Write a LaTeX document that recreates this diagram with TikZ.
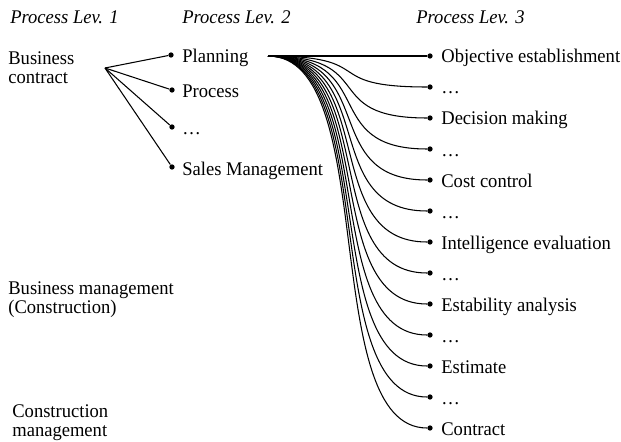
\documentclass[tikz,border=0pt]{standalone}
\usepackage{fontspec}
\setmainfont[FakeStretch=0.96]{Liberation Serif}
\usetikzlibrary{positioning}
\tikzset{
    txt/.style={
           inner sep=0pt,
           anchor=base west,
           font=\fontsize{11}{11.2}\selectfont,
           align=left,
           text=black
           },
    block/.style={txt, anchor=north west},
    head/.style={txt, font=\fontsize{11}{11.2}\selectfont\itshape},
    dot/.style={circle, fill=black, inner sep=0pt, minimum size=3pt},
    conn/.style={draw=black, line width=0.6pt},
}

\begin{document}
\begin{tikzpicture}[x=0.02cm,y=-0.02cm]
\useasboundingbox (0,0) rectangle (621,442);

% headers
\node[head] (LEVONE)   at (10,24)  {Process Lev. 1};
\node[head] (LEVTWO)   at (182,24) {Process Lev. 2};
\node[head] (LEVTHREE) at (416,24) {Process Lev. 3};

% level 1
\node[block] (CONTRACT)     at (8,51)  {Business\\contract};
\node[block] (BUSINESSMGMT) at (8,281) {Business management\\(Construction)};
\node[block] (CONSTRMGMT)   at (12,404) {Construction\\management};
\coordinate (FAN) at (105,68);

% level 2
\node[dot] (PLANDOT)  at (171,55)  {};
\node[dot] (PROCDOT)  at (172,90)  {};
\node[dot] (ETCDOT)   at (172,127) {};
\node[dot] (SALESDOT) at (172,167) {};
\node[txt] (PLANNING) at (182,63)  {Planning};
\node[txt] (PROCESS)  at (182,98)  {Process};
\node[txt] (ETC)      at (182,135) {…};
\node[txt] (SALES)    at (182,175) {Sales Management};
\coordinate (PLANOUT) at (268,56);

\path (FAN) edge[conn] (PLANDOT)
      (FAN) edge[conn] (PROCDOT)
      (FAN) edge[conn] (ETCDOT)
      (FAN) edge[conn] (SALESDOT);

% level 3
\foreach \t [count=\i from 0] in {Objective establishment, …, Decision making, …,
    Cost control, …, Intelligence evaluation, …, Estability analysis, …,
    Estimate, …, Contract}{
  \node[dot] (SUB\i) at (430,{56+31*\i}) {};
  \node[txt] (SUBTXT\i) at (441,{63+31*\i}) {\t};
  \draw[conn] (PLANOUT) .. controls +(113,0) and +(-113,0) .. (SUB\i);
}

\end{tikzpicture}
\end{document}
